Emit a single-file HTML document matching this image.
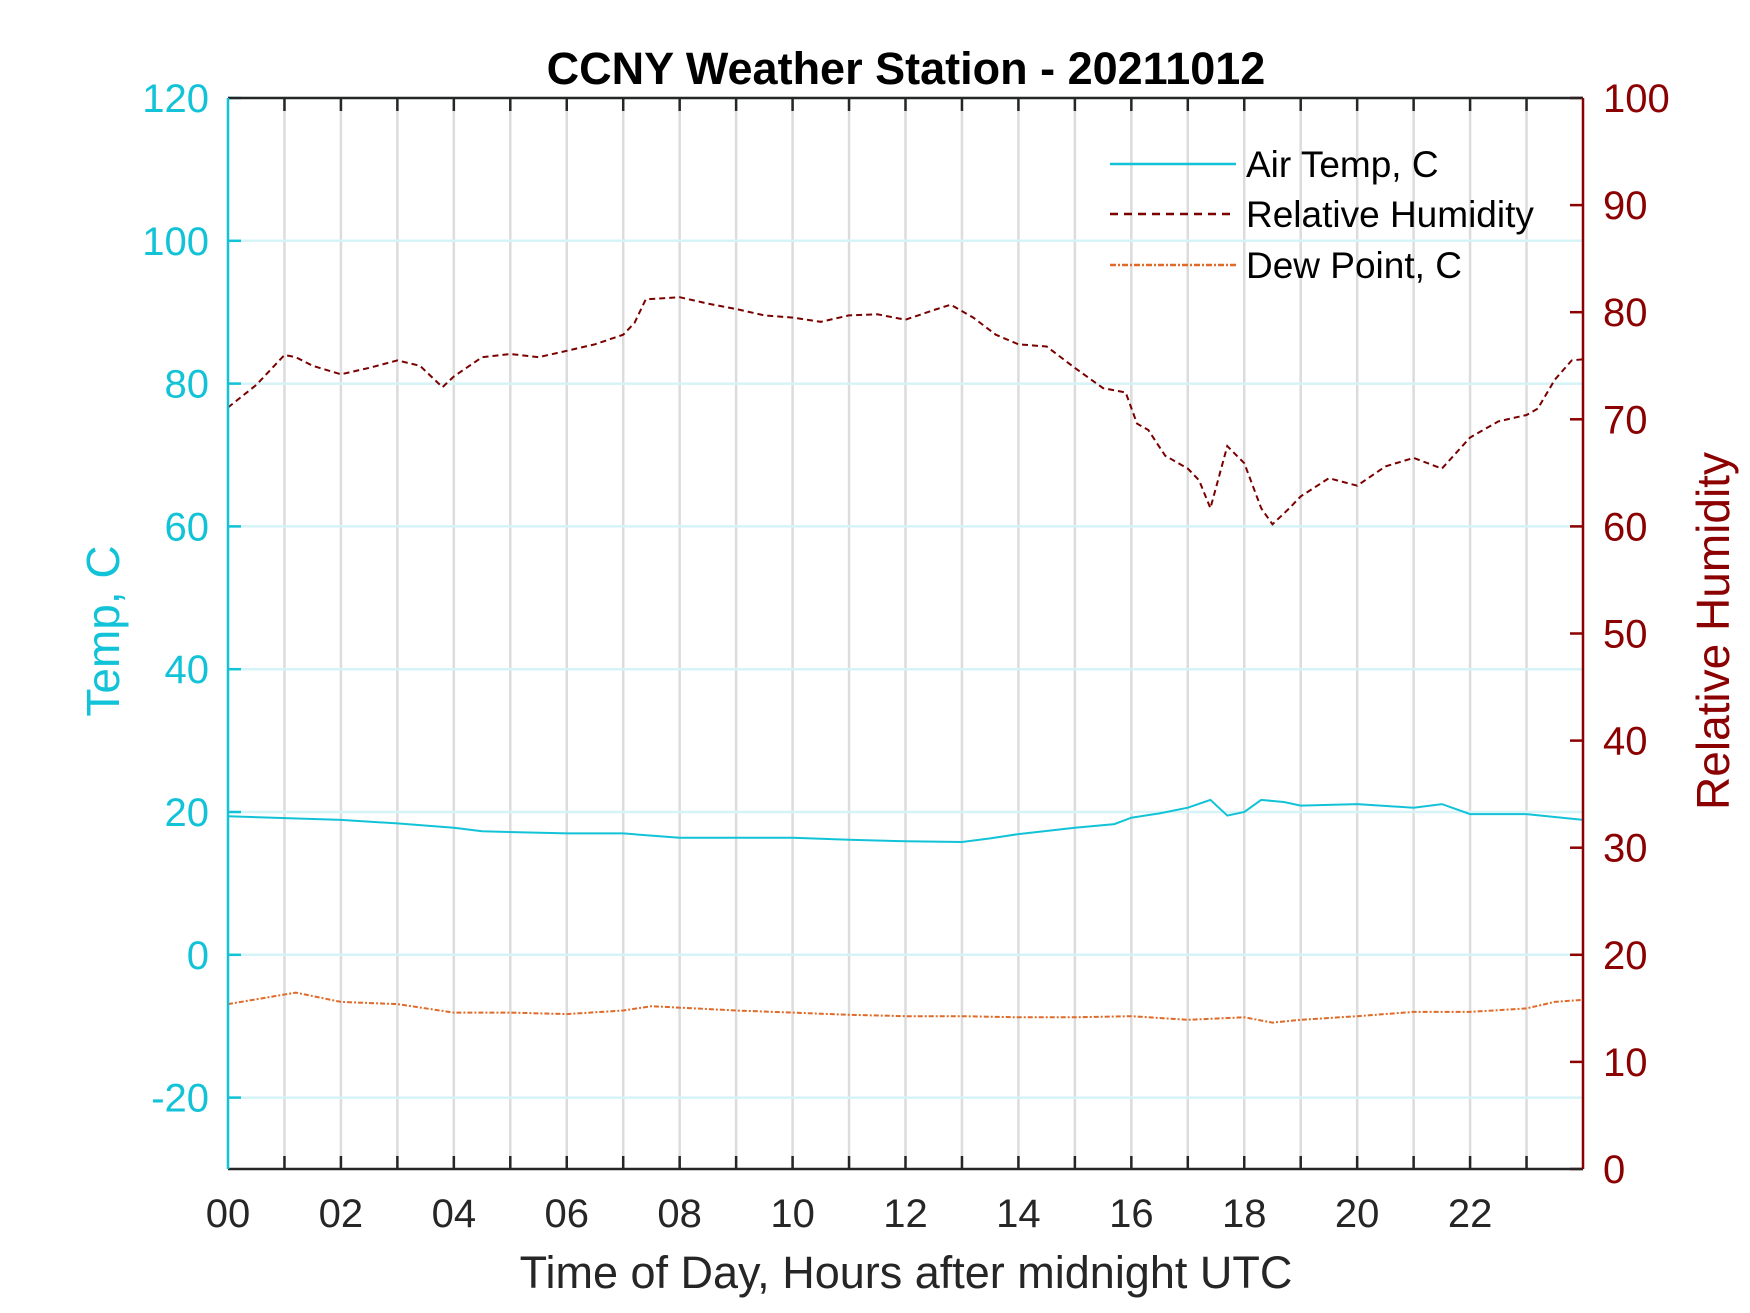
<!DOCTYPE html>
<html><head><meta charset="utf-8"><style>
body{margin:0;background:#fff;}
svg{display:block;font-family:"Liberation Sans",Arial,sans-serif;}
</style></head><body>
<svg id="chart" width="1750" height="1313" viewBox="0 0 1750 1313">
<rect width="1750" height="1313" fill="#fff"/>
<g id="grid"></g>
<g id="series"></g>
<g id="axes"></g>
<text x="906" y="84" text-anchor="middle" font-size="45" font-weight="bold" fill="#000">CCNY Weather Station - 20211012</text>
<text x="906" y="1288" text-anchor="middle" font-size="45" fill="#262626">Time of Day, Hours after midnight UTC</text>
<text transform="translate(119,631) rotate(-90)" text-anchor="middle" font-size="46" fill="#12c3d8">Temp, C</text>
<text transform="translate(1729,631) rotate(-90)" text-anchor="middle" font-size="46" fill="#8b0000">Relative Humidity</text>
<g>
<line x1="1110" y1="164" x2="1236" y2="164" stroke="#12c3d8" stroke-width="2.5"/>
<text x="1246" y="177" font-size="37" fill="#000">Air Temp, C</text>
<line x1="1110" y1="214" x2="1236" y2="214" stroke="#7a0000" stroke-width="2.5" stroke-dasharray="8,6"/>
<text x="1246" y="227" font-size="37" fill="#000">Relative Humidity</text>
<line x1="1110" y1="265" x2="1236" y2="265" stroke="#e06a28" stroke-width="2.5" stroke-dasharray="6,2,2,2"/>
<text x="1246" y="278" font-size="37" fill="#000">Dew Point, C</text>
</g>
</svg>
<script>
const rhTimes=[0,0.5,1.0,1.2,1.5,2.0,2.5,3.0,3.4,3.8,4.0,4.5,5.0,5.5,6.0,6.5,7.0,7.2,7.4,8.0,8.5,9.0,9.5,10,10.5,11,11.5,12,12.5,12.8,13.2,13.6,14,14.5,15,15.5,15.9,16.1,16.3,16.6,17.0,17.2,17.4,17.7,18.0,18.3,18.5,18.8,19.0,19.5,20,20.5,21,21.5,22,22.5,23,23.2,23.5,23.8,24];
const rhValues=[71.1,73.2,76,75.8,75,74.2,74.8,75.5,75,73,74,75.8,76.1,75.8,76.4,77,77.9,79,81.2,81.4,80.8,80.3,79.7,79.5,79.1,79.7,79.8,79.3,80.2,80.7,79.5,77.9,77,76.8,74.8,72.9,72.5,69.6,69,66.6,65.4,64.3,61.7,67.5,65.9,61.7,60.2,61.7,62.8,64.5,63.8,65.6,66.4,65.4,68.3,69.8,70.4,71,73.7,75.5,75.6];
const tTimes=[0,2,3,4,4.5,6,7,7.5,8,10,11,12,13,13.5,14,15,15.7,16,16.5,17,17.4,17.7,18,18.3,18.7,19,20,21,21.5,22,23,24];
const tValues=[19.4,18.9,18.4,17.8,17.3,17,17,16.7,16.4,16.4,16.1,15.9,15.8,16.3,16.9,17.8,18.3,19.2,19.8,20.6,21.7,19.5,20,21.7,21.4,20.9,21.1,20.6,21.1,19.7,19.7,18.9];
const dTimes=[0,1.2,2,3,4,5,6,7,7.5,9,10,11,12,13,14,15,16,17,18,18.5,19,20,21,22,23,23.5,24];
const dValues=[-6.9,-5.3,-6.6,-6.9,-8.1,-8.1,-8.3,-7.8,-7.2,-7.8,-8.1,-8.4,-8.6,-8.6,-8.75,-8.75,-8.6,-9.1,-8.75,-9.5,-9.1,-8.6,-8,-8,-7.5,-6.6,-6.3];
const leftTicks=[-20,0,20,40,60,80,100,120];
const rightTicks=[0,10,20,30,40,50,60,70,80,90,100];
const xTicks=[0,2,4,6,8,10,12,14,16,18,20,22];

const L=228,R=1583,T=98,B=1169;
const xs=h=>L+(R-L)*h/24;
const yl=v=>B-(B-T)*(v+30)/150;
const yr=v=>B-(B-T)*v/100;
const NS='http://www.w3.org/2000/svg';
function mk(tag,attrs,parent,txt){const e=document.createElementNS(NS,tag);for(const k in attrs)e.setAttribute(k,attrs[k]);if(txt!==undefined)e.textContent=txt;parent.appendChild(e);return e;}
const grid=document.getElementById('grid'),axes=document.getElementById('axes'),series=document.getElementById('series');
for(let h=1;h<24;h++){
 const g=mk('line',{x1:xs(h),x2:xs(h),y1:T,y2:B,stroke:'#dcdcdc','stroke-width':2.5},grid);
 
 
 const t1=mk('line',{x1:xs(h),x2:xs(h),y1:T,y2:T+13,stroke:'#262626','stroke-width':2.5},axes);
 
 
 const t2=mk('line',{x1:xs(h),x2:xs(h),y1:B,y2:B-13,stroke:'#262626','stroke-width':2.5},axes);
 
 
}
leftTicks.forEach(v=>{
 const g=mk('line',{x1:L,x2:R,y1:yl(v),y2:yl(v),stroke:'#d6f3f7','stroke-width':2.5},grid);
 
 
 const t=mk('line',{x1:L,x2:L+13,y1:yl(v),y2:yl(v),stroke:'#12c3d8','stroke-width':2.5},axes);
 
 
 const lb=mk('text',{x:209,y:yl(v)+14,'text-anchor':'end','font-size':40,fill:'#12c3d8'},axes,String(v));
 
 
});
rightTicks.forEach(v=>{
 const t=mk('line',{x1:R-13,x2:R,y1:yr(v),y2:yr(v),stroke:'#8b0000','stroke-width':2.5},axes);
 
 
 const lb=mk('text',{x:1603,y:yr(v)+14,'font-size':40,fill:'#8b0000'},axes,String(v));
 
 
});
xTicks.forEach(h=>{
 const lb=mk('text',{x:xs(h),y:1227,'text-anchor':'middle','font-size':40,fill:'#262626'},axes,String(h).padStart(2,'0'));
 
 
});
const ax=[['line',{x1:L,x2:R,y1:T,y2:T,stroke:'#262626'}],['line',{x1:L,x2:R,y1:B,y2:B,stroke:'#262626'}],['line',{x1:L,x2:L,y1:T,y2:B,stroke:'#12c3d8'}],['line',{x1:R,x2:R,y1:T,y2:B,stroke:'#8b0000'}]];
const axNames=['top-axis-line','bottom-axis-line','left-axis-line','right-axis-line'];
ax.forEach((a,i)=>{a[1]['stroke-width']=2.5;const e=mk(a[0],a[1],axes);
 
 });
function pts(ts,vs,yf){return ts.map((t,i)=>xs(t).toFixed(1)+','+yf(vs[i]).toFixed(1)).join(' ');}
const p1=mk('polyline',{points:pts(tTimes,tValues,yl),fill:'none',stroke:'#12c3d8','stroke-width':2},series);


const p2=mk('polyline',{points:pts(rhTimes,rhValues,yr),fill:'none',stroke:'#7a0000','stroke-width':2,'stroke-dasharray':'6,4'},series);


const p3=mk('polyline',{points:pts(dTimes,dValues,yl),fill:'none',stroke:'#e06a28','stroke-width':2,'stroke-dasharray':'5,2,2,2'},series);


</script>
</body></html>
